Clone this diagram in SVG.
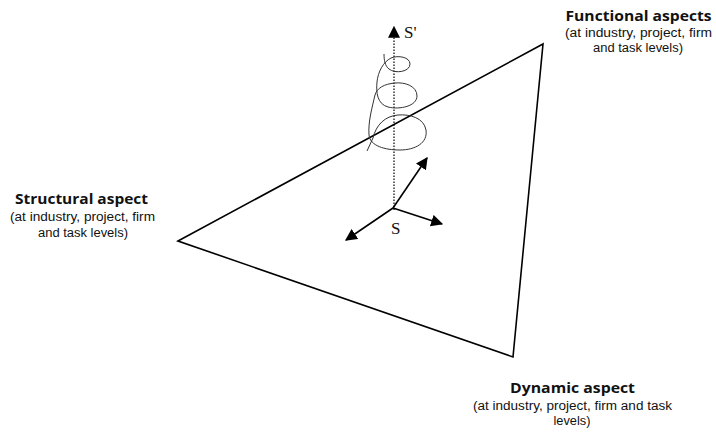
<svg xmlns="http://www.w3.org/2000/svg" width="716" height="434" viewBox="0 0 716 434">
<defs>
<style>
.t{fill:#111;text-anchor:middle}
.b{font-family:"Open Sans","Liberation Sans",sans-serif;font-weight:bold;font-size:15px}
.s{font-family:"Liberation Sans",Arial,sans-serif;font-size:12.5px}
.sv{font-family:"Liberation Serif",serif;font-size:17px;fill:#111}
.ln{stroke:#000;stroke-width:1.6;fill:none}
</style>
<marker id="ah" viewBox="0 0 10 10" refX="9" refY="5" markerWidth="12" markerHeight="12" markerUnits="userSpaceOnUse" orient="auto">
<path d="M0,0 L10,5 L0,10 Z" fill="#000"/>
</marker>
</defs>
<rect width="716" height="434" fill="#fff"/>
<g id="triangle">
<path class="ln" d="M178,241 L543,44 L513,357 Z"/>
</g>
<g id="functional">
<text class="t b" x="638.5" y="21" textLength="146" lengthAdjust="spacingAndGlyphs">Functional aspects</text>
<text class="t s" x="638.5" y="37" textLength="147" lengthAdjust="spacingAndGlyphs">(at industry, project, firm</text>
<text class="t s" x="638" y="52" textLength="90" lengthAdjust="spacingAndGlyphs">and task levels)</text>
</g>
<g id="structural">
<text class="t b" x="81.5" y="204" textLength="133" lengthAdjust="spacingAndGlyphs">Structural aspect</text>
<text class="t s" x="82.5" y="220.5" textLength="145" lengthAdjust="spacingAndGlyphs">(at industry, project, firm</text>
<text class="t s" x="83" y="236.5" textLength="90" lengthAdjust="spacingAndGlyphs">and task levels)</text>
</g>
<g id="dynamic">
<text class="t b" x="572.5" y="393" textLength="125" lengthAdjust="spacingAndGlyphs">Dynamic aspect</text>
<text class="t s" x="572.5" y="410" textLength="199" lengthAdjust="spacingAndGlyphs">(at industry, project, firm and task</text>
<text class="t s" x="572" y="425" textLength="37" lengthAdjust="spacingAndGlyphs">levels)</text>
</g>
<g id="connectors">
<line x1="394" y1="210" x2="394" y2="27" stroke="#000" stroke-width="1.2" stroke-dasharray="1.5,1.5" marker-end="url(#ah)"/>
<line class="ln" x1="393" y1="208" x2="427" y2="158" marker-end="url(#ah)"/>
<line class="ln" x1="393" y1="208" x2="442" y2="224" marker-end="url(#ah)"/>
<line class="ln" x1="393" y1="208" x2="346" y2="240" marker-end="url(#ah)"/>
<path d="M384,54 C384,60 385,66 389,69 C395,74 410,72 410,64 C410,57 398,55 391,58 C383,62 378,72 377,82 C376,92 377,104 388,107 C400,110 417,106 417,96 C417,86 405,82 395,83 C384,84 377,88 375,95 C372,108 368,122 369,135 C370,146 385,150 400,150 C415,150 428,143 426,130 C424,118 410,114 398,115 C385,116 376,125 373,138 L367,151" fill="none" stroke="#333" stroke-width="1"/>
</g>
<g id="labels">
<text class="sv" x="404" y="38">S'</text>
<text class="sv" x="391" y="234">S</text>
</g>
</svg>
